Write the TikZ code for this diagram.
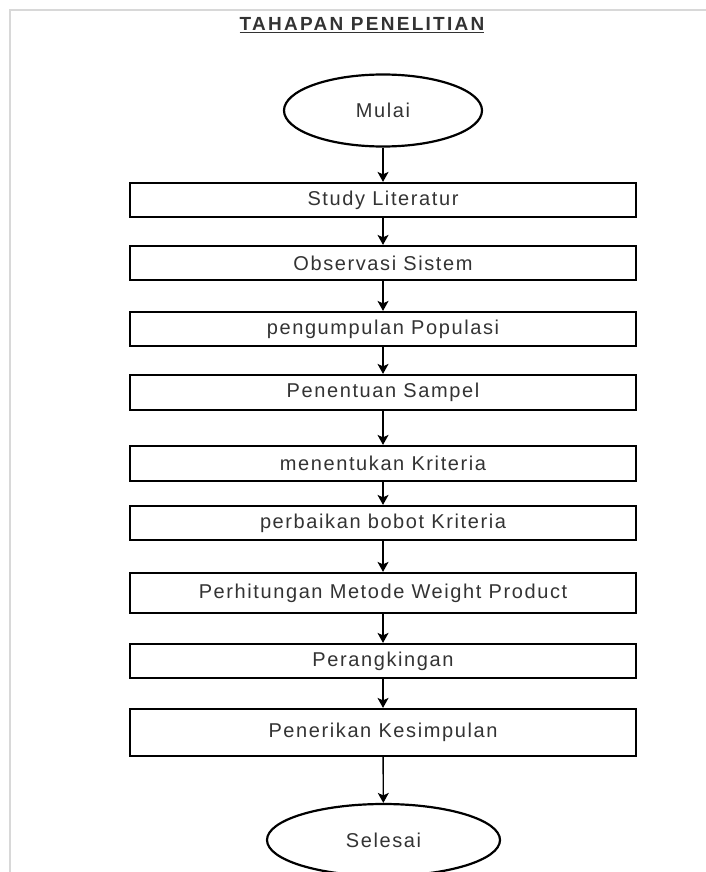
\documentclass[tikz,border=0pt]{standalone}
\usepackage{fontspec}
\setmainfont{Liberation Sans}
\newfontfamily\boxfont[LetterSpace=8]{Liberation Sans}
\newfontfamily\titlefont[LetterSpace=12]{Liberation Sans}
\usetikzlibrary{shapes.geometric,arrows.meta}
\definecolor{txtgray}{HTML}{333333}
\definecolor{framegray}{HTML}{D8D8D8}
\begin{document}
\begin{tikzpicture}[x=1pt,y=-1pt,
  stepbox/.style={draw=black, line width=2.2pt, rectangle, minimum width=506pt, inner sep=0pt,
    font=\boxfont\fontsize{20}{22}\selectfont, text=txtgray},
  term/.style={draw=black, line width=2.2pt, ellipse, inner sep=0pt,
    font=\boxfont\fontsize{20}{22}\selectfont, text=txtgray},
  flow/.style={-{Stealth[length=10pt,width=11pt,inset=2.5pt]}, line width=1.4pt, black},
  titlestyle/.style={inner sep=0pt, font=\titlefont\bfseries\fontsize{19}{22}\selectfont, text=txtgray}
]
\useasboundingbox (0,0) rectangle (705,872);
\fill[white] (0,0) rectangle (705,872);
\draw[framegray, line width=2pt] (10,880) -- (10,10) -- (710,10);

\node[titlestyle] (title) at (362,25) {\underline{TAHAPAN PENELITIAN}};

\node[term, minimum width=198pt, minimum height=72pt] (mulai) at (383,110.5) {Mulai};
\node[stepbox, minimum height=34pt] (s1) at (383,200) {Study Literatur};
\node[stepbox, minimum height=34pt] (s2) at (383,263) {Observasi Sistem};
\node[stepbox, minimum height=34pt] (s3) at (383,329) {pengumpulan Populasi};
\node[stepbox, minimum height=35pt] (s4) at (383,392.5) {Penentuan Sampel};
\node[stepbox, minimum height=35pt] (s5) at (383,463.5) {menentukan Kriteria};
\node[stepbox, minimum height=34pt] (s6) at (383,523) {perbaikan bobot Kriteria};
\node[stepbox, minimum height=40pt] (s7) at (383,593) {Perhitungan Metode Weight Product};
\node[stepbox, minimum height=34pt] (s8) at (383,661) {Perangkingan};
\node[stepbox, minimum height=47pt] (s9) at (383,732.5) {Penerikan Kesimpulan};
\node[term, minimum width=233pt, minimum height=72pt] (selesai) at (383.5,840) {Selesai};

\draw[flow] (mulai) -- (s1);
\draw[flow] (s1) -- (s2);
\draw[flow] (s2) -- (s3);
\draw[flow] (s3) -- (s4);
\draw[flow] (s4) -- (s5);
\draw[flow] (s5) -- (s6);
\draw[flow] (s6) -- (s7);
\draw[flow] (s7) -- (s8);
\draw[flow] (s8) -- (s9);
\draw[flow] (s9) -- (selesai);
\end{tikzpicture}
\end{document}
